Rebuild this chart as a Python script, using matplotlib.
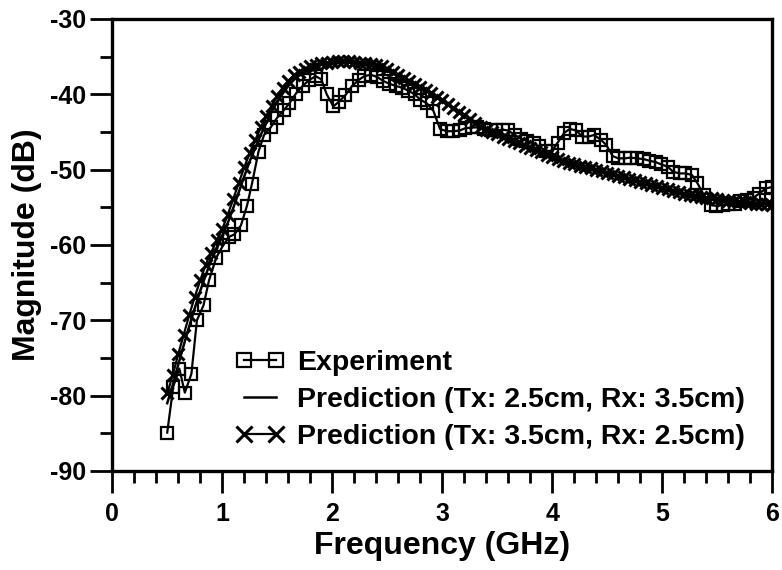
import matplotlib
matplotlib.use("Agg")
import matplotlib.pyplot as plt
from matplotlib.ticker import MultipleLocator

plt.rcParams['font.family'] = ['Liberation Sans', 'DejaVu Sans']
plt.rcParams['font.weight'] = 'bold'
plt.rcParams['axes.unicode_minus'] = False

# Experiment
exp_f = [0.50, 0.555, 0.61, 0.66, 0.72, 0.77, 0.83, 0.88, 0.945, 1.01, 1.065, 1.11, 1.17, 1.225,
         1.27, 1.33, 1.38, 1.44, 1.50, 1.56, 1.61, 1.67, 1.73, 1.79, 1.85, 1.90, 1.95, 2.01,
         2.06, 2.12, 2.18, 2.24, 2.29, 2.35, 2.41, 2.46, 2.52, 2.58, 2.63, 2.69, 2.75, 2.80,
         2.86, 2.92, 2.98, 3.04, 3.10, 3.16, 3.21, 3.27, 3.32, 3.38, 3.44, 3.49, 3.55, 3.60,
         3.66, 3.72, 3.77, 3.83, 3.88, 3.94, 4.00, 4.05, 4.11, 4.16, 4.22, 4.27, 4.33, 4.38,
         4.44, 4.49, 4.55, 4.60, 4.66, 4.71, 4.77, 4.83, 4.88, 4.94, 4.99, 5.05, 5.10, 5.16,
         5.21, 5.27, 5.32, 5.38, 5.44, 5.49, 5.55, 5.60, 5.66, 5.71, 5.77, 5.83, 5.88, 5.94, 6.00]
exp_db = [-84.9, -78.8, -76.4, -79.6, -77.1, -70.0, -68.0, -64.7, -61.7, -60.0, -58.9, -58.6, -57.4, -54.8,
          -51.9, -47.6, -45.4, -44.4, -43.1, -42.1, -41.2, -39.9, -38.9, -38.1, -37.6, -38.0, -40.0, -41.6,
          -41.0, -40.1, -38.9, -38.1, -37.6, -37.4, -37.7, -38.2, -38.6, -38.9, -39.1, -39.5, -40.0, -40.7,
          -41.2, -42.2, -44.6, -44.9, -44.9, -44.8, -44.5, -44.4, -44.4, -44.6, -44.7, -44.8, -44.7, -44.8,
          -45.4, -45.9, -46.2, -46.5, -46.9, -47.5, -47.5, -46.4, -45.1, -44.6, -44.8, -45.6, -45.6, -45.4,
          -46.0, -46.7, -48.2, -48.5, -48.5, -48.4, -48.5, -48.6, -48.8, -49.0, -49.3, -49.6, -50.3, -50.5,
          -50.5, -50.7, -51.8, -53.4, -54.7, -54.8, -54.7, -54.6, -54.5, -54.2, -54.0, -53.7, -53.2, -52.5, -52.3]

# Prediction frequencies (GHz)
pred_f = [0.50, 0.55, 0.60, 0.65, 0.70, 0.75, 0.80, 0.85, 0.90, 0.95,
          1.00, 1.05, 1.10, 1.15, 1.20, 1.25, 1.30, 1.35, 1.40, 1.45,
          1.50, 1.55, 1.60, 1.65, 1.70, 1.75, 1.80, 1.85, 1.90, 1.95,
          2.00, 2.05, 2.10, 2.15, 2.20, 2.25, 2.30, 2.35, 2.40, 2.45,
          2.50, 2.55, 2.60, 2.65, 2.70, 2.75, 2.80, 2.85, 2.90, 2.95,
          3.00, 3.05, 3.10, 3.15, 3.20, 3.25, 3.30, 3.35, 3.40, 3.45,
          3.50, 3.55, 3.60, 3.65, 3.70, 3.75, 3.80, 3.85, 3.90, 3.95,
          4.00, 4.05, 4.10, 4.15, 4.20, 4.25, 4.30, 4.35, 4.40, 4.45,
          4.50, 4.55, 4.60, 4.65, 4.70, 4.75, 4.80, 4.85, 4.90, 4.95,
          5.00, 5.05, 5.10, 5.15, 5.20, 5.25, 5.30, 5.35, 5.40, 5.45,
          5.50, 5.55, 5.60, 5.65, 5.70, 5.75, 5.80, 5.85, 5.90, 5.95, 6.00]

# Prediction (Tx: 2.5cm, Rx: 3.5cm) - solid
pred1_db = [-81.0, -78.6, -75.9, -73.3, -70.8, -68.4, -66.1, -64.0, -62.0, -60.5,
            -58.9, -57.1, -55.1, -53.0, -50.9, -48.9, -47.1, -45.4, -43.8, -42.3,
            -41.0, -39.9, -38.9, -38.1, -37.5, -37.0, -36.6, -36.3, -36.1, -36.0,
            -35.9, -35.8, -35.8, -35.8, -35.9, -36.0, -36.1, -36.2, -36.4, -36.6,
            -36.9, -37.2, -37.6, -37.9, -38.3, -38.7, -39.1, -39.5, -39.9, -40.4,
            -40.9, -41.4, -41.9, -42.4, -42.9, -43.4, -43.9, -44.3, -44.7, -45.0,
            -45.3, -45.6, -45.9, -46.2, -46.5, -46.8, -47.1, -47.4, -47.7, -48.0,
            -48.3, -48.5, -48.8, -49.0, -49.2, -49.4, -49.6, -49.8, -50.0, -50.2,
            -50.4, -50.6, -50.8, -51.0, -51.2, -51.4, -51.6, -51.8, -52.0, -52.2,
            -52.4, -52.6, -52.8, -53.0, -53.2, -53.4, -53.5, -53.6, -53.7, -53.8,
            -53.9, -54.0, -54.1, -54.2, -54.2, -54.3, -54.3, -54.4, -54.4, -54.5, -54.6]

# Prediction (Tx: 3.5cm, Rx: 2.5cm) - x markers
pred2_db = [-79.7, -77.3, -74.5, -71.9, -69.3, -66.9, -64.7, -62.6, -61.0, -59.4,
            -57.9, -56.0, -53.9, -51.8, -49.7, -47.8, -46.1, -44.4, -42.9, -41.5,
            -40.2, -39.1, -38.2, -37.5, -37.0, -36.6, -36.3, -36.1, -35.9, -35.8,
            -35.7, -35.6, -35.6, -35.6, -35.7, -35.8, -35.9, -36.0, -36.1, -36.3,
            -36.6, -37.0, -37.4, -37.8, -38.2, -38.6, -39.0, -39.4, -39.8, -40.3,
            -40.8, -41.3, -41.8, -42.3, -42.8, -43.3, -43.8, -44.3, -44.7, -45.0,
            -45.3, -45.6, -45.9, -46.2, -46.5, -46.8, -47.1, -47.4, -47.7, -48.0,
            -48.3, -48.6, -48.9, -49.1, -49.3, -49.5, -49.7, -49.8, -50.0, -50.2,
            -50.4, -50.6, -50.8, -51.0, -51.2, -51.4, -51.6, -51.8, -52.0, -52.2,
            -52.4, -52.6, -52.8, -53.0, -53.2, -53.4, -53.5, -53.6, -53.7, -53.8,
            -53.9, -54.0, -54.1, -54.2, -54.3, -54.3, -54.4, -54.5, -54.5, -54.6, -54.7]

x_ticks = [0, 1, 2, 3, 4, 5, 6]
y_ticks = [-90, -80, -70, -60, -50, -40, -30]

fig = plt.figure(figsize=(7.82, 5.70), dpi=100)
ax = fig.add_axes([0.1435, 0.1737, 0.844, 0.7930])

ax.plot(exp_f, exp_db, color='black', lw=1.6, marker='s', ms=8, mfc='none',
        mec='black', mew=1.6, label='Experiment')
ax.plot(pred_f, pred1_db, color='black', lw=1.8, label='Prediction (Tx: 2.5cm, Rx: 3.5cm)')
ax.plot(pred_f, pred2_db, color='black', lw=1.6, marker='x', ms=9, mew=2.2,
        label='Prediction (Tx: 3.5cm, Rx: 2.5cm)')

ax.set_xlim(0, 6)
ax.set_ylim(-90, -30)
ax.set_xticks(x_ticks)
ax.set_yticks(y_ticks)
ax.xaxis.set_minor_locator(MultipleLocator(0.2))
ax.yaxis.set_minor_locator(MultipleLocator(5))

for s in ax.spines.values():
    s.set_linewidth(2.4)
ax.tick_params(axis='both', which='major', direction='out', length=16, width=2.0,
               labelsize=18)
ax.tick_params(axis='both', which='minor', direction='out', length=8.5, width=2.0)
ax.tick_params(axis='x', which='major', pad=6)
ax.tick_params(axis='y', which='major', pad=3)
for lab in ax.get_xticklabels() + ax.get_yticklabels():
    lab.set_fontweight('bold')

ax.set_xlabel('Frequency (GHz)', fontsize=23, fontweight='bold', labelpad=4)
ax.set_ylabel('Magnitude (dB)', fontsize=23, fontweight='bold')
ax.yaxis.set_label_coords(-0.106, 0.5)

leg = ax.legend(loc='lower left', bbox_to_anchor=(0.17, 0.022), frameon=False,
                fontsize=20.5, numpoints=2, handlelength=1.7, handletextpad=0.45,
                labelspacing=0.38, borderaxespad=0.0, markerscale=1.25)
for t in leg.get_texts():
    t.set_fontweight('bold')

fig.savefig('out.png', dpi=100)
